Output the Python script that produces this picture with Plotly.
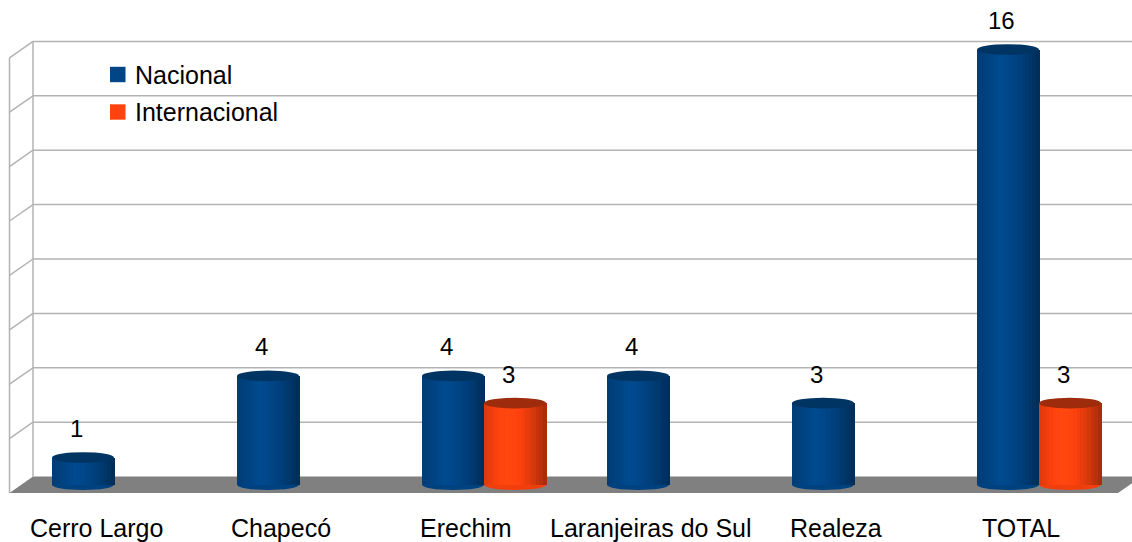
import plotly.graph_objects as go

# ---------------- data ----------------
categories = ["Cerro Largo", "Chapecó", "Erechim", "Laranjeiras do Sul", "Realeza", "TOTAL"]
nacional = [1, 4, 4, 4, 3, 16]
internacional = [None, None, 3, None, None, 3]
series_names = ["Nacional", "Internacional"]
grid_values = [0, 2, 4, 6, 8, 10, 12, 14, 16]

# ---------------- styling / calibration ----------------
W, H = 1132, 542
PX_PER_X = 185.0      # pixels per category step
X_ORIGIN_PX = 83.0    # pixel of category 0 (first bar centre)
PX_PER_Y = 27.2       # pixels per unit
Y_ORIGIN_PX = 484.7   # pixel of value 0 (bars)
FONT = "Liberation Sans"

def dx(px):
    return px / PX_PER_X

def dy(px):
    return px / PX_PER_Y

def xp(px):
    return (px - X_ORIGIN_PX) / PX_PER_X

def yp(py):
    return (Y_ORIGIN_PX - py) / PX_PER_Y

BAR_W = dx(62)
RY = dy(5.3)
DEPTH_X0, DEPTH_X1 = xp(9.5), xp(33)       # front / back left edges
DEPTH_Y = dy(16.4)
GRID_SHIFT = dy(8.1)
GRID_COLOR = "#b3b3b3"

colors = {
    "Nacional": {"base": (0, 69, 134), "top": "#003462", "bottom": "#00427f"},
    "Internacional": {"base": (255, 66, 14), "top": "#9e2b0b", "bottom": "#f03f0d"},
}

def shade(rgb, t):
    if t < 0.35:
        f = 0.86 + (1.07 - 0.86) * (t / 0.35)
    else:
        f = 1.07 - (1.07 - 0.64) * ((t - 0.35) / 0.65) ** 1.6
    return "rgb(%d,%d,%d)" % tuple(min(255, int(round(c * f))) for c in rgb)

fig = go.Figure()
shapes = []
annotations = []

# ---------------- back wall / side wall / floor ----------------
for v in grid_values[1:]:
    gy = v + GRID_SHIFT
    shapes.append(dict(type="line", layer="below", x0=DEPTH_X1, x1=xp(W + 5), y0=gy, y1=gy,
                       line=dict(color=GRID_COLOR, width=1.5)))
    shapes.append(dict(type="line", layer="below", x0=DEPTH_X0, x1=DEPTH_X1, y0=gy - DEPTH_Y, y1=gy,
                       line=dict(color=GRID_COLOR, width=1.5)))
top_grid = grid_values[-1] + GRID_SHIFT
shapes.append(dict(type="line", layer="below", x0=DEPTH_X1, x1=DEPTH_X1, y0=GRID_SHIFT, y1=top_grid,
                   line=dict(color=GRID_COLOR, width=1.5)))
shapes.append(dict(type="line", layer="below", x0=DEPTH_X0, x1=DEPTH_X0, y0=GRID_SHIFT - DEPTH_Y,
                   y1=top_grid - DEPTH_Y, line=dict(color=GRID_COLOR, width=1.5)))
fy_back, fy_front = GRID_SHIFT, GRID_SHIFT - DEPTH_Y
floor_path = "M %f,%f L %f,%f L %f,%f L %f,%f Z" % (
    DEPTH_X0, fy_front, DEPTH_X1, fy_back, xp(1141.5), fy_back, xp(1118), fy_front)
shapes.append(dict(type="path", layer="below", path=floor_path, fillcolor="#808080",
                   line=dict(width=0)))

# ---------------- cylinders ----------------
N_STRIPS = 18
strip_w = BAR_W / N_STRIPS
xs = list(range(len(categories)))
for s_idx, (name, vals) in enumerate(zip(series_names, [nacional, internacional])):
    c = colors[name]
    left = -BAR_W / 2 + s_idx * BAR_W
    for j in range(N_STRIPS):
        t = (j + 0.5) / N_STRIPS
        fig.add_trace(go.Bar(
            x=xs, y=vals, width=strip_w * 1.25, offset=left + j * strip_w,
            marker=dict(color=shade(c["base"], t), line=dict(width=0)),
            name=name, showlegend=False, hoverinfo="skip"))
    for i, v in enumerate(vals):
        if v is None:
            continue
        x0 = i + left
        x1 = x0 + BAR_W
        shapes.append(dict(type="circle", layer="below", x0=x0, x1=x1, y0=-RY, y1=RY,
                           fillcolor=c["bottom"], line=dict(width=0)))
        shapes.append(dict(type="circle", layer="above", x0=x0, x1=x1, y0=v - RY, y1=v + RY,
                           fillcolor=c["top"], line=dict(width=0)))
        annotations.append(dict(x=i + left + BAR_W / 2 - dx(7), y=v + dy(29), text=str(v),
                                showarrow=False, xanchor="center", yanchor="middle",
                                font=dict(family=FONT, size=24, color="#000000")))

# ---------------- category labels ----------------
for i, cat in enumerate(categories):
    annotations.append(dict(x=i + dx(13), y=yp(528), text=cat, showarrow=False,
                            xanchor="center", yanchor="middle",
                            font=dict(family=FONT, size=25, color="#000000")))

# ---------------- legend ----------------
for k, name in enumerate(series_names):
    cy = 74.5 + 37.5 * k
    c = colors[name]["base"]
    shapes.append(dict(type="rect", layer="above", x0=xp(110), x1=xp(125.5), y0=yp(cy - 7.7),
                       y1=yp(cy + 7.7), fillcolor="rgb(%d,%d,%d)" % c, line=dict(width=0)))
    annotations.append(dict(x=xp(133), y=yp(cy), text=name, showarrow=False,
                            xanchor="left", yanchor="middle",
                            font=dict(family=FONT, size=25, color="#000000")))

fig.update_layout(
    width=W, height=H, margin=dict(l=0, r=0, t=0, b=0),
    paper_bgcolor="white", plot_bgcolor="white",
    barmode="overlay", bargap=0, showlegend=False,
    xaxis=dict(visible=False, range=[xp(0), xp(W)], fixedrange=True),
    yaxis=dict(visible=False, range=[yp(H), yp(0)], fixedrange=True),
    shapes=shapes, annotations=annotations,
    font=dict(family=FONT),
)

fig.write_html("out.html", config={"displayModeBar": False},
               post_script="document.body.style.margin='0';document.body.style.padding='0';"
                           "document.body.style.overflow='hidden';")
